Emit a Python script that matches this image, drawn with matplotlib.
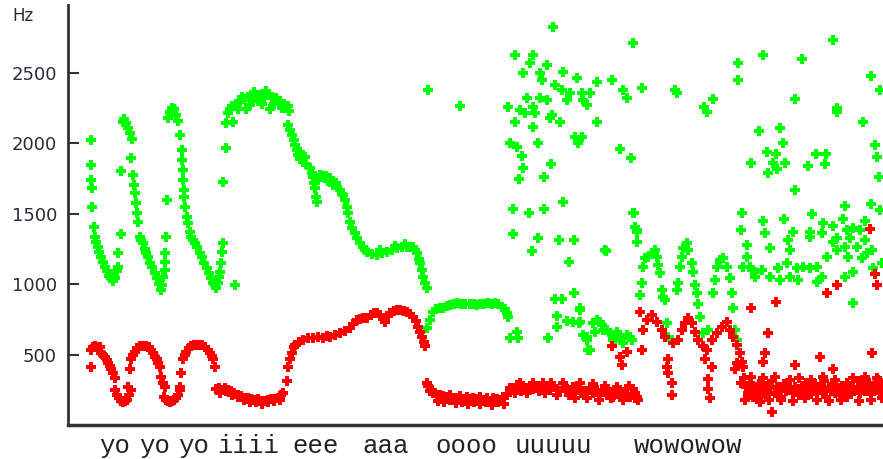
import matplotlib
matplotlib.use("Agg")
import matplotlib.pyplot as plt
import matplotlib.transforms as mtransforms

# formant tracks: frame index, frequency in Hz
f2_frame = [
    # yo yo yo
    91, 91, 91, 92, 92, 94, 95, 96, 98, 99, 101, 103, 105, 107, 109, 111, 113, 115, 117, 118, 118, 121, 121,
    123, 124, 126, 128, 130, 132, 131, 133, 134, 135, 136, 137, 138, 140, 141, 143, 145, 146, 148, 150, 152,
    155, 157, 159, 161, 162, 163, 165, 165, 165, 166, 167,
    168, 170, 172, 174, 176, 178, 180, 182, 182, 183, 183, 184, 184, 185, 187, 188, 190, 191, 193, 195, 197,
    200, 202, 204, 207, 209, 211, 213, 215, 216, 218, 219, 220, 221, 222, 223, 235,
    # iiii
    223, 226, 226, 228, 230, 233, 232, 236, 240, 244, 246, 248, 252, 256, 258, 260, 262, 264, 268, 270, 272,
    276, 280, 284, 288, 289,
    238, 250, 262, 274, 282, 242, 254, 266,
    # eee / aaa
    288, 290, 292, 294, 295, 297, 298, 300, 303, 306, 310, 312, 313, 314, 315, 316, 317, 320, 323, 326, 330,
    332, 333, 337, 340, 343, 345, 347, 348, 350, 352, 355, 357, 360, 363, 367, 372, 377, 382, 387, 392, 397,
    402, 407, 410, 413, 417, 419, 420, 422, 423, 425, 427,
    300, 305, 318, 328, 336, 342, 365, 380, 395, 405, 415,
    # oooo
    427, 430, 433, 436, 440, 443, 447, 450, 454, 457, 461, 465, 470, 474, 477, 480, 484, 488, 492, 495, 498,
    502, 505, 507, 508, 510, 517, 518, 428, 460,
    # uuuuu
    553, 515, 533, 530, 547, 523, 540, 563, 577, 597, 612, 542, 555, 562, 570, 582, 590, 623, 627, 642, 675,
    527, 540, 547, 567, 583, 587, 508, 520, 525, 533, 535, 550, 552, 515, 533, 560, 597, 575, 582, 578, 510,
    517, 538, 522, 620, 631, 523, 551, 519, 544, 563, 513, 529, 544, 634, 635, 637, 637, 513, 538, 559, 574,
    532, 606, 569, 574, 555, 562, 580, 557, 567, 573, 579, 557, 548, 588, 633, 677, 605,
    593, 597, 602, 607, 612, 617, 622, 627, 632, 583, 587, 595, 615, 587, 590, 600, 603, 610, 613, 620, 623,
    630, 580, 580,
    # wowowow
    633, 635, 637, 637, 640, 642, 643, 645, 648, 652, 655, 657, 658, 660, 662, 663, 665, 667, 668, 672, 677,
    678, 680, 682, 683, 687, 688, 692, 693, 695, 697, 698, 700, 703, 708, 713, 715, 717, 720, 723, 727, 730,
    732, 733, 735, 737,
    # tail
    833, 763, 738, 802, 738, 871, 880, 713, 704, 707, 795, 837, 837, 863, 759, 780, 783, 767, 776, 751, 773,
    785, 777, 768, 816, 826, 808, 825, 795, 875, 877, 879, 845, 871, 880, 742, 763, 765, 784, 812, 823, 833,
    843, 865, 741, 747, 770, 793, 788, 810, 810, 822, 837, 847, 853, 850, 860, 865, 747, 743, 752, 762, 755,
    770, 778, 780, 787, 790, 790, 797, 803, 810, 817, 798, 817, 822, 827, 833, 837, 845, 848, 857, 862, 867,
    872, 853, 845, 873, 882, 853, 750, 755, 742,
]
f2_hz = [
    2024, 1847, 1740, 1684, 1549, 1407, 1336, 1300, 1265, 1230, 1195, 1160, 1120, 1090, 1060, 1040, 1025, 1045,
    1090, 1120, 1220, 1357, 1804,
    2150, 2170, 2140, 2110, 2070, 2030, 1897, 1776, 1705, 1648, 1577, 1507, 1443, 1336, 1310, 1294, 1250, 1223,
    1190, 1152, 1120, 1081, 1040, 1000, 961, 990, 1050, 1100, 1159, 1223, 1336, 1599,
    2180, 2220, 2250, 2240, 2200, 2160, 2059, 1953, 1883, 1812, 1740, 1670, 1620, 1549, 1478, 1436, 1370, 1336,
    1310, 1294, 1260, 1223, 1190, 1152, 1115, 1081, 1045, 1010, 990, 975, 1010, 1050, 1088, 1152, 1230, 1294, 995,
    1726, 1968, 2145, 2216, 2240, 2152, 2260, 2280, 2290, 2310, 2240, 2330, 2320, 2330, 2300, 2340, 2320, 2330,
    2340, 2240, 2330, 2320, 2300, 2280, 2260, 2230,
    2240, 2270, 2280, 2280, 2250, 2330, 2360, 2370,
    2130, 2090, 2059, 2020, 1989, 1950, 1918, 1890, 1868, 1850, 1826, 1790, 1762, 1720, 1680, 1620, 1585, 1776,
    1770, 1765, 1755, 1730, 1705, 1690, 1670, 1630, 1599, 1550, 1507, 1443, 1400, 1365, 1330, 1294, 1260, 1230,
    1215, 1209, 1220, 1230, 1245, 1258, 1262, 1265, 1262, 1265, 1223, 1180, 1152, 1100, 1053, 1010, 975,
    1940, 1900, 1740, 1730, 1720, 1640, 1240, 1240, 1270, 1285, 1240,
    691, 748, 805, 820, 830, 833, 845, 850, 860, 869, 862, 858, 855, 860, 850, 855, 862, 866, 862, 869, 855,
    840, 820, 798, 769, 620, 663, 620, 2378, 2265,
    2826, 2627, 2627, 2570, 2556, 2500, 2500, 2507, 2464, 2436, 2450, 2450, 2414, 2379, 2358, 2358, 2358, 2379,
    2322, 2393, 2379, 2322, 2322, 2308, 2308, 2308, 2272, 2258, 2237, 2216, 2258, 2216, 2180, 2201, 2152, 2116,
    2152, 2152, 2045, 2045, 2003, 2003, 1975, 2003, 1911, 1961, 1897, 1826, 1854, 1748, 1762, 1585, 1535, 1507,
    1535, 1507, 1407, 1372, 1301, 1358, 1329, 1315, 1315, 1237, 1237, 1159, 939, 897, 897, 833, 776, 741, 734,
    727, 698, 620, 535, 2712, 2358, 1244,
    727, 748, 713, 677, 642, 663, 620, 642, 606, 642, 606, 663, 606, 627, 535, 734, 677, 652, 606, 627, 585,
    627, 819, 734,
    1507, 1407, 1386, 1301, 925, 1010, 1124, 1188, 1195, 1223, 1244, 1195, 1138, 1081, 961, 911, 890, 727, 627,
    606, 961, 1010, 1124, 1195, 1258, 1294, 1244, 1152, 1088, 995, 939, 855, 769, 652, 677, 939, 1031, 1124,
    1173, 1188, 1124, 1045, 939, 833, 677, 606,
    2733, 2627, 2570, 2598, 2450, 2478, 2379, 2315, 2258, 2223, 2315, 2251, 2223, 2152, 2088, 2109, 2003, 1939,
    1925, 1861, 1861, 1861, 1819, 1790, 1925, 1925, 1840, 1854, 1670, 1989, 1904, 1762, 1556, 1570, 1528, 1507,
    1450, 1365, 1464, 1500, 1436, 1415, 1464, 1450, 1386, 1280, 1258, 1372, 1315, 1372, 1336, 1365, 1329, 1386,
    1400, 1329, 1386, 1315, 1195, 1124, 1102, 1102, 1053, 1053, 1117, 1031, 1152, 1244, 1053, 1117, 1124, 1117,
    1124, 1031, 1017, 1053, 1195, 1301, 1244, 1265, 1195, 1265, 1188, 1223, 1244, 1088, 1053, 1117, 1152, 869,
    1124, 1088, 1507,
]

f1_frame = [
    # yo yo yo
    91, 91, 93, 95, 98, 100, 101, 103, 105, 107, 108, 110, 111, 113, 115, 115, 117, 119, 121, 123, 125, 127,
    129, 131, 128, 130, 131, 133, 135, 137, 140, 143, 146, 149, 151, 153, 155, 157, 158, 160, 161, 163, 165,
    164, 166, 168, 170, 172, 174, 176, 178, 180, 180, 181, 183, 185, 186, 189, 191, 194, 198, 202, 205, 208,
    210, 212, 213, 215,
    # iiii
    216, 219, 222, 225, 228, 231, 234, 238, 241, 245, 248, 251, 254, 258, 261, 265, 268, 271, 274, 278, 281,
    283, 287, 288,
    220, 226, 232, 238, 244, 250, 256, 262, 268, 274, 280,
    # eee / aaa
    290, 292, 294, 295, 299, 303, 308, 313, 318, 323, 327, 330, 335, 340, 345, 350, 353, 357, 360, 363, 367,
    371, 374, 377, 380, 383, 385, 388, 390, 394, 397, 400, 404, 407, 410, 413, 416, 418, 420, 422, 424, 425,
    # oooo / uuuuu
    427, 428, 430, 433, 437, 440, 443, 447, 450, 453, 457, 460, 463, 467, 470, 473, 477, 480, 483, 487, 490,
    493, 497, 500, 503, 507, 510, 513, 517, 520, 523, 527, 530, 533, 537, 540, 543, 547, 550, 553, 557, 560,
    563, 567, 570, 573, 577, 580, 583, 587, 590, 593, 597, 600, 603, 607, 610, 613, 617, 620, 623, 627, 630,
    633, 635, 637, 638, 612, 620, 622, 627,
    432, 438, 444, 450, 456, 462, 468, 474, 480, 486, 492, 498, 504,
    515, 521, 527, 533, 539, 545, 551, 557, 563, 569, 575, 581, 587, 593, 599, 605, 611, 617, 623, 629, 635,
    # wowowow
    640, 642, 643, 647, 652, 657, 662, 665, 668, 667, 668, 672, 672, 673, 678, 682, 685, 688, 692, 695, 698,
    703, 705, 712, 708, 708, 710, 707, 712, 717, 722, 727, 730, 733, 737, 740, 742, 743, 737, 735,
    # tail
    744, 746, 748, 750, 752, 754, 757, 759, 761, 763, 766, 768, 770, 772, 775, 777, 779, 781, 784, 786, 788,
    790, 793, 795, 797, 799, 802, 804, 806, 808, 811, 813, 815, 817, 820, 822, 824, 826, 829, 831, 833, 835,
    838, 840, 842, 844, 847, 849, 851, 853, 856, 858, 860, 862, 865, 867, 869, 871, 874, 876, 878, 880, 882,
    745, 751, 757, 763, 769, 775, 781, 787, 793, 799, 805, 811, 817, 823, 829, 835, 841, 847, 853, 859, 865,
    871, 877, 882,
    751, 776, 768, 765, 763, 795, 820, 827, 837, 870, 875, 877, 872, 833, 760, 772, 753, 741,
]
f1_hz = [
    415, 535, 550, 557, 555, 550, 514, 500, 479, 460, 443, 420, 394, 370, 337, 245, 215, 190, 170, 165, 168,
    180, 215, 250, 273, 394, 465, 500, 521, 545, 557, 560, 557, 550, 535, 510, 486, 465, 443, 408, 344, 300,
    273, 200, 180, 170, 165, 170, 175, 190, 215, 245, 273, 372, 465, 500, 521, 545, 557, 565, 571, 565, 550,
    535, 514, 490, 465, 408,
    252, 260, 250, 266, 245, 238, 225, 216, 205, 195, 190, 181, 175, 181, 170, 167, 175, 181, 188, 195, 210,
    230, 309, 415,
    230, 240, 210, 200, 175, 165, 160, 150, 160, 170, 180,
    470, 514, 550, 571, 590, 606, 615, 620, 625, 620, 630, 627, 640, 656, 670, 691, 720, 748, 755, 760, 762,
    780, 795, 798, 780, 750, 734, 770, 798, 810, 815, 819, 810, 805, 790, 769, 740, 698, 660, 627, 590, 557,
    301, 280, 238, 225, 216, 210, 205, 202, 215, 190, 195, 205, 188, 200, 181, 195, 185, 200, 180, 190, 170,
    195, 185, 175, 200, 210, 266, 250, 285, 301, 280, 265, 273, 255, 280, 266, 301, 260, 245, 273, 252, 240,
    265, 252, 230, 273, 245, 301, 240, 225, 260, 230, 250, 210, 245, 216, 235, 200, 240, 230, 215, 255, 200,
    252, 230, 202, 180, 557, 479, 429, 521,
    250, 170, 160, 175, 155, 165, 150, 160, 150, 165, 145, 160, 150,
    230, 240, 230, 300, 240, 230, 300, 210, 300, 210, 190, 230, 190, 290, 180, 280, 190, 270, 180, 280, 190,
    805, 535, 677, 748, 783, 734, 677, 627, 465, 415, 372, 301, 216, 585, 606, 677, 727, 762, 727, 663, 606,
    557, 465, 408, 323, 252, 195, 535, 606, 652, 698, 734, 677, 627, 571, 514, 450, 415, 443, 394,
    330, 270, 230, 300, 210, 260, 240, 290, 200, 250, 280, 220, 260, 310, 230, 270, 250, 200, 290, 240, 260,
    320, 230, 270, 250, 210, 280, 240, 300, 250, 220, 270, 290, 230, 260, 250, 310, 200, 270, 240, 290, 230,
    260, 210, 280, 250, 300, 240, 220, 270, 250, 310, 230, 280, 240, 260, 300, 220, 270, 250, 320, 240, 280,
    180, 340, 190, 330, 180, 340, 180, 300, 170, 330, 190, 320, 180, 340, 170, 320, 180, 200, 330, 170, 340,
    180, 330, 190,
    833, 876, 656, 514, 450, 429, 486, 939, 995, 1393, 1074, 995, 514, 394, 160, 89, 202, 300,
]

words = ["yo", "yo", "yo", "iiii", "eee", "aaa", "oooo", "uuuuu", "wowowow"]
word_frame = [115, 155, 194, 248, 316, 386, 466, 553, 688]
y_ticks = [500, 1000, 1500, 2000, 2500]

fig = plt.figure(figsize=(8.83, 4.59), dpi=100)
ax = fig.add_axes([68 / 883, 1 - 425 / 459, 1 - 68 / 883, 420 / 459])

ax.plot(f2_frame, f2_hz, ls="none", marker="P", ms=7, mew=0, color="#00ff00")
ax.plot(f1_frame, f1_hz, ls="none", marker="P", ms=7, mew=0, color="#ff0000")

ax.set_xlim(68, 883)
ax.set_ylim(0, 2980)
ax.set_xticks([])
ax.set_yticks(y_ticks)
ax.tick_params(axis="y", direction="in", length=8, width=1.5, color="#333333",
               labelsize=13, labelcolor="#2a2a3a", pad=8)
for s in ("top", "right"):
    ax.spines[s].set_visible(False)
ax.spines["left"].set_linewidth(2)
ax.spines["left"].set_color("#333333")
ax.spines["bottom"].set_linewidth(2.5)
ax.spines["bottom"].set_color("#333333")

fig.text(12 / 883, 1 - 16 / 459, "Hz", fontsize=12, color="#2a2a3a", ha="left", va="center")

trans = mtransforms.blended_transform_factory(ax.transData, ax.transAxes)
for w, xf in zip(words, word_frame):
    ax.text(xf, -0.05, w, transform=trans, ha="center", va="center",
            family="Liberation Mono", fontsize=18.5, color="#222222", clip_on=False)

fig.savefig("out.png", dpi=100)
